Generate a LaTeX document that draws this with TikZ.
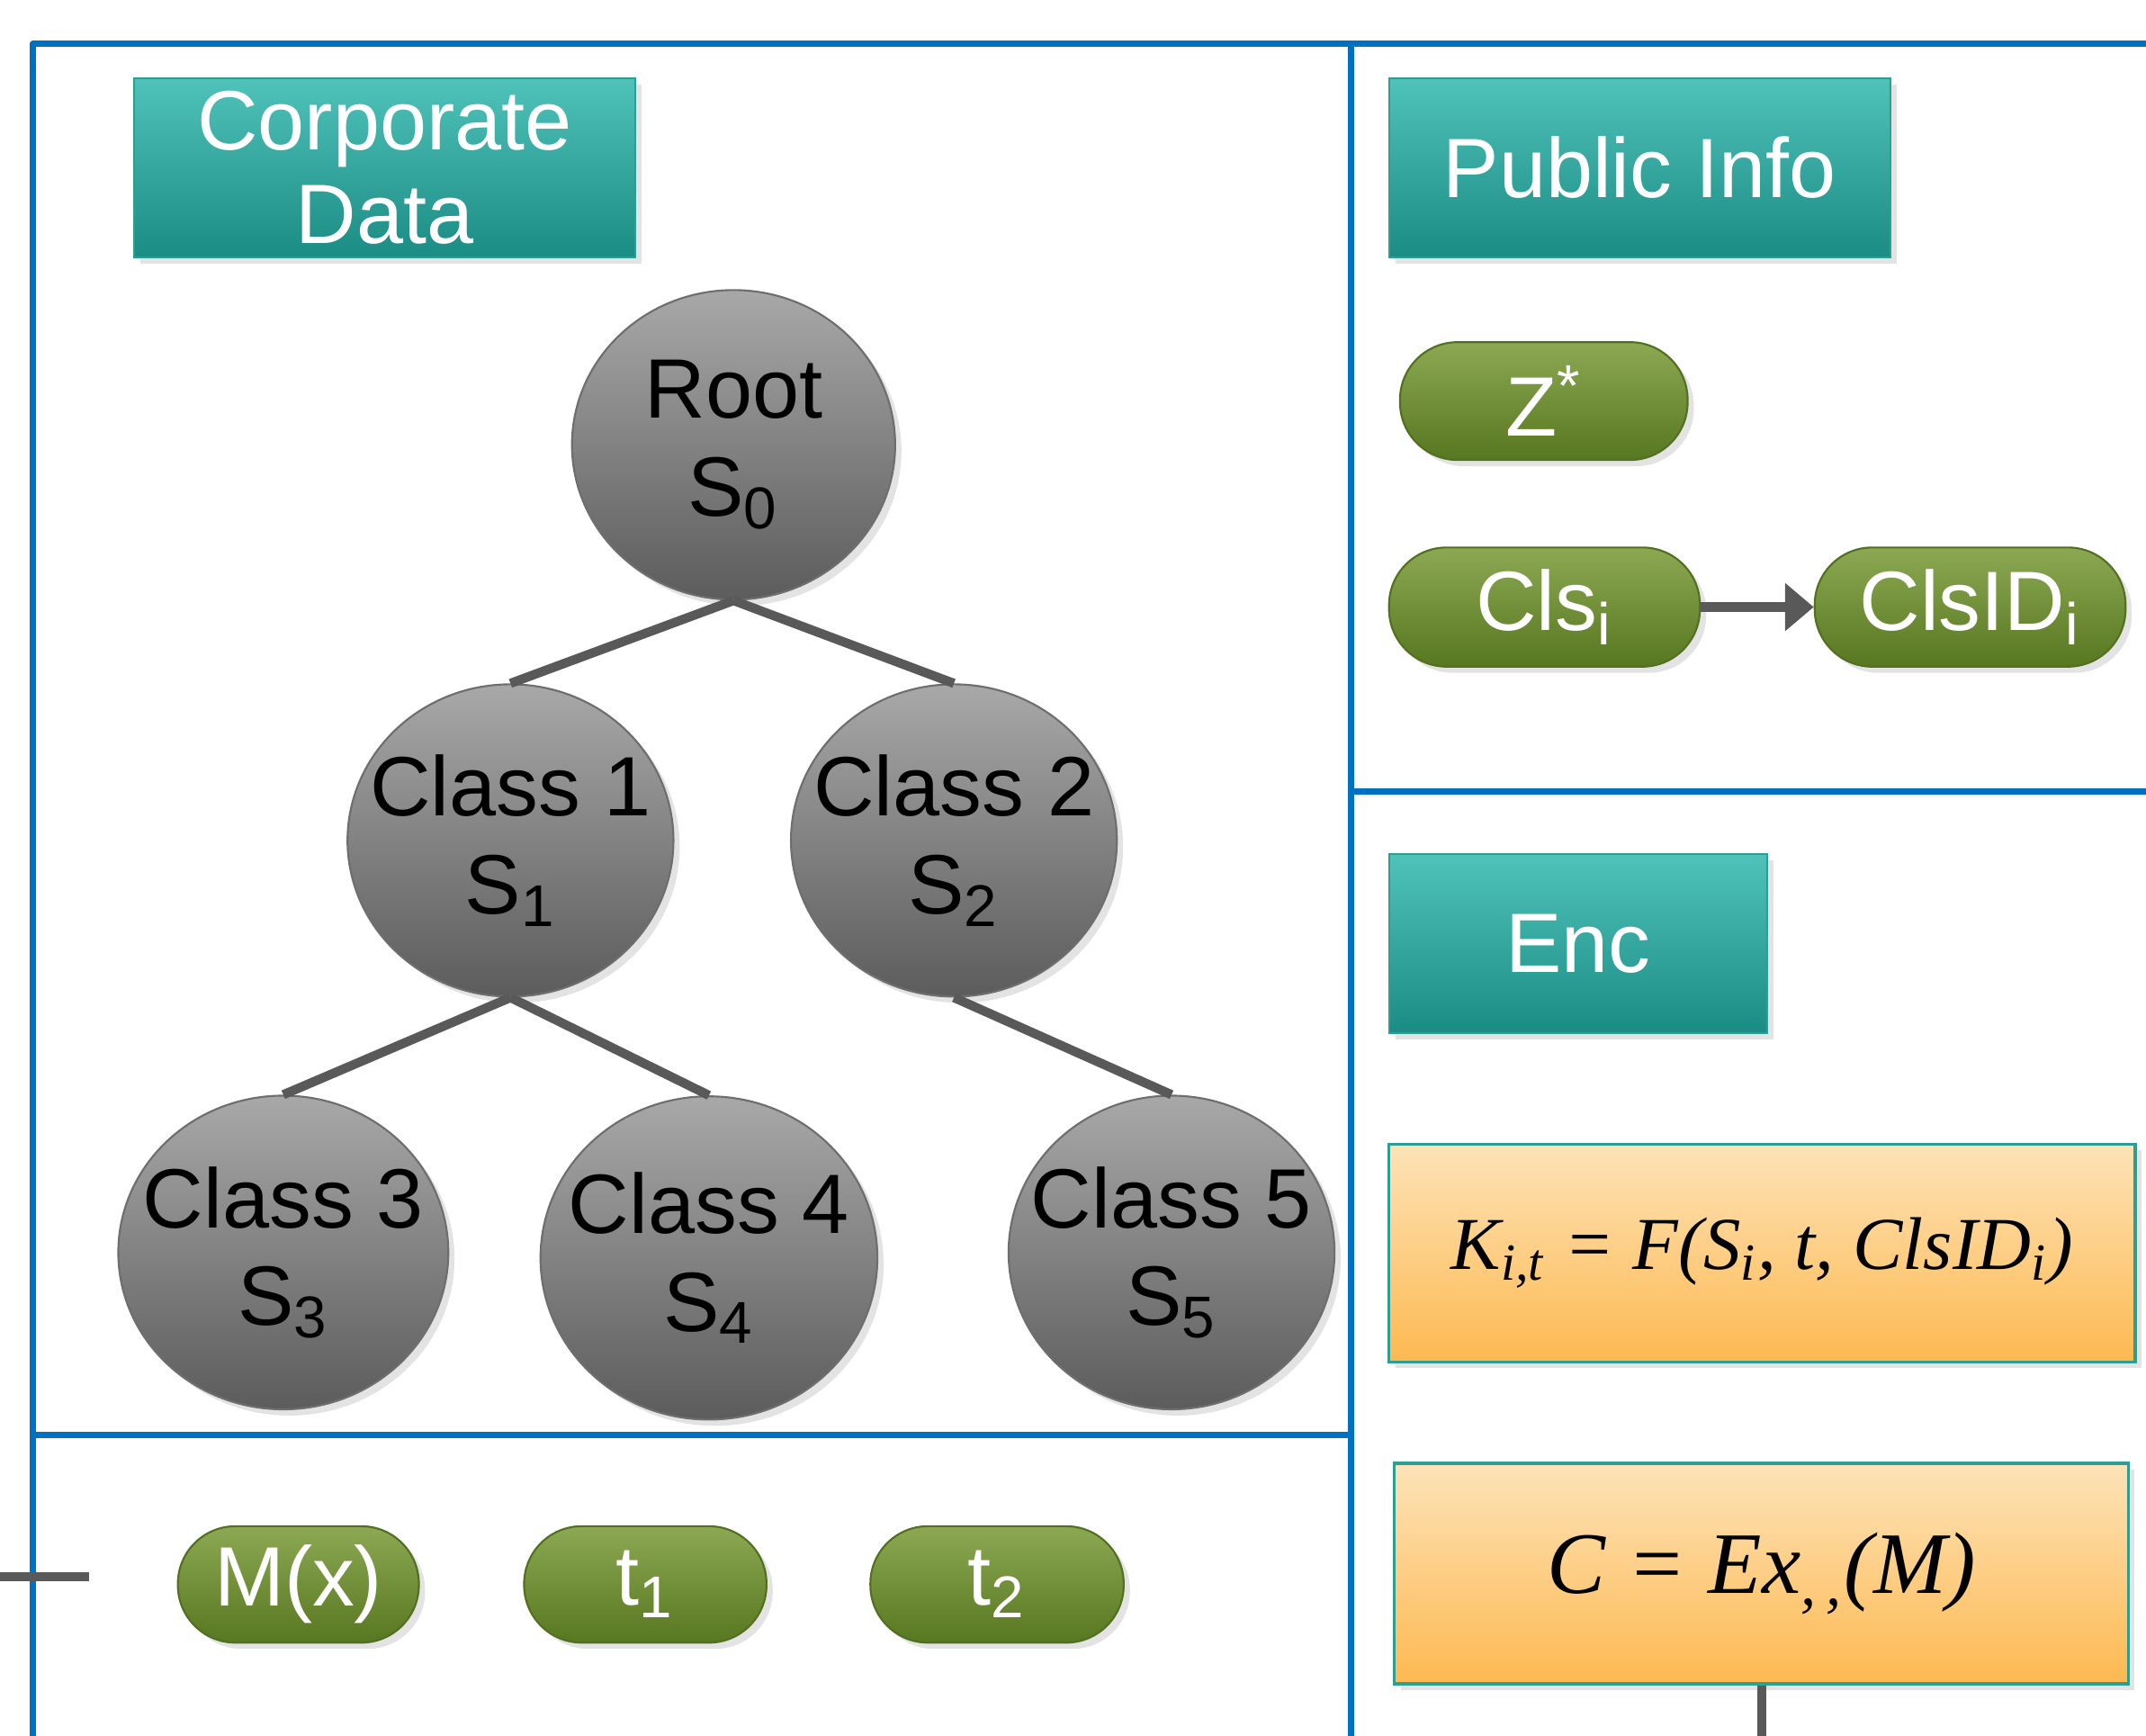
\documentclass[tikz,border=0pt]{standalone}
\usepackage{fontspec}
\setmainfont{Liberation Sans}
\newfontfamily\eqfont{Liberation Serif}
\usetikzlibrary{shapes.geometric,shadows,arrows.meta}
\definecolor{frameblue}{HTML}{0070C0}
\definecolor{linkgray}{HTML}{595959}
\definecolor{tealtop}{HTML}{4FC2BA}
\definecolor{tealbot}{HTML}{1B8C84}
\definecolor{tealedge}{HTML}{2E9E94}
\definecolor{graytop}{HTML}{A8A8A8}
\definecolor{graybot}{HTML}{5C5C5C}
\definecolor{grayedge}{HTML}{6E6E6E}
\definecolor{greentop}{HTML}{8CA852}
\definecolor{greenbot}{HTML}{587721}
\definecolor{greenedge}{HTML}{52701F}
\definecolor{orangetop}{HTML}{FDE3B8}
\definecolor{orangebot}{HTML}{FDB951}
\begin{document}
\begin{tikzpicture}[x=0.01cm, y=-0.01cm, >={Triangle[length=0.21cm, width=0.34cm]},
  panel/.style={draw=frameblue, line width=1.3pt, line join=round},
  link/.style={draw=linkgray, line width=1.9pt},
  softshadow/.style={drop shadow={opacity=0.22, shadow xshift=1.3pt, shadow yshift=-1.3pt}},
  titlebox/.style={rectangle, softshadow, draw=tealedge, line width=0.4pt, top color=tealtop, bottom color=tealbot,
    text=white, align=center, inner sep=0pt, minimum height=1.31cm, font=\fontsize{17.5}{19.6}\selectfont},
  classnode/.style={ellipse, softshadow, draw=grayedge, line width=0.4pt, top color=graytop, bottom color=graybot,
    align=center, inner xsep=-0.4cm, inner ysep=-0.3cm, font=\fontsize{17.5}{20.3}\selectfont},
  pill/.style={rectangle, rounded corners=0.42cm, softshadow, draw=greenedge, line width=0.4pt, top color=greentop,
    bottom color=greenbot, text=white, inner sep=0pt, minimum height=0.86cm, font=\fontsize{17.5}{20}\selectfont},
  formula/.style={rectangle, softshadow, draw=tealedge, line width=0.6pt, top color=orangetop, bottom color=orangebot,
    inner sep=0pt}]
  \useasboundingbox (0,0) rectangle (1568,1268);
  % panels
  \draw[panel] (24,1268) -- (24,32) -- (1568,32);
  \draw[panel] (987,32) -- (987,1268);
  \draw[panel] (24,1048) -- (987,1048);
  \draw[panel] (987,578) -- (1568,578);
  % headers
  \node[titlebox, minimum width=3.66cm] (corp) at (281,122.5) {Corporate\\Data};
  \node[titlebox, minimum width=3.66cm] (pub) at (1198,122.5) {Public Info};
  \node[titlebox, minimum width=2.76cm] (enc) at (1153,689.5) {Enc};
  % class tree
  \node[classnode, minimum width=2.36cm, minimum height=2.26cm] (root) at (536,325) {Root\\S\textsubscript{0}};
  \node[classnode, minimum width=2.38cm, minimum height=2.28cm] (c1) at (373,614) {Class 1\\S\textsubscript{1}};
  \node[classnode, minimum width=2.38cm, minimum height=2.28cm] (c2) at (697,614) {Class 2\\S\textsubscript{2}};
  \node[classnode, minimum width=2.41cm, minimum height=2.29cm] (c3) at (207,915) {Class 3\\S\textsubscript{3}};
  \node[classnode, minimum width=2.46cm, minimum height=2.36cm] (c4) at (518,919) {Class 4\\S\textsubscript{4}};
  \node[classnode, minimum width=2.38cm, minimum height=2.29cm] (c5) at (856,915) {Class 5\\S\textsubscript{5}};
  \draw[link] (root.south) -- (c1.north);
  \draw[link] (root.south) -- (c2.north);
  \draw[link] (c1.south) -- (c3.north);
  \draw[link] (c1.south) -- (c4.north);
  \draw[link] (c2.south) -- (c5.north);
  % public values
  \node[pill, minimum width=2.10cm] (zstar) at (1128,293) {Z\textsuperscript{*}};
  \node[pill, minimum width=2.27cm, minimum height=0.87cm] (cls) at (1128.5,443.5) {Cls\textsubscript{i}};
  \node[pill, minimum width=2.27cm, minimum height=0.87cm] (clsid) at (1439.5,443.5) {ClsID\textsubscript{i}};
  \draw[link, ->] (cls) -- (clsid);
  % message and times
  \node[pill, minimum width=1.76cm, minimum height=0.85cm] (msg) at (218,1157.5) {M(x)};
  \node[pill, minimum width=1.77cm, minimum height=0.85cm] (t1) at (471.5,1157.5) {t\textsubscript{1}};
  \node[pill, minimum width=1.85cm, minimum height=0.85cm] (t2) at (728.5,1157.5) {t\textsubscript{2}};
  \coordinate (stubL) at (0,1152);
  \coordinate (stubR) at (65,1152);
  \draw[link] (stubL) -- (stubR);
  % encryption
  \node[formula, minimum width=5.45cm, minimum height=1.59cm, font=\eqfont\itshape\fontsize{15.5}{18}\selectfont] (keyf) at (1287.5,915.5)
    {K\textsubscript{i,t} = F(S\textsubscript{i}, t, ClsID\textsubscript{i})};
  \node[formula, minimum width=5.36cm, minimum height=1.61cm, font=\eqfont\itshape\fontsize{18.2}{21}\selectfont] (encf) at (1287,1149.5)
    {C = Ex\textsubscript{,\,,}(M)};
  \coordinate (encdown) at (1287,1268);
  \draw[link] (encf.south) -- (encdown);
\end{tikzpicture}
\end{document}
